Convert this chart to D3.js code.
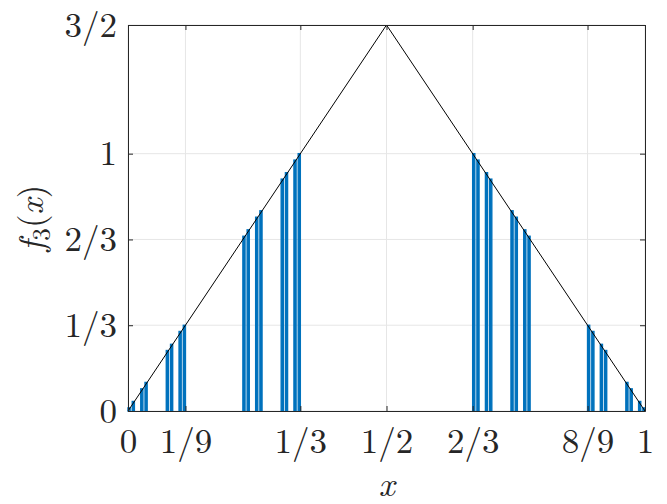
<!DOCTYPE html>
<html>
<head>
<meta charset="utf-8">
<script src="https://cdn.jsdelivr.net/npm/d3@7"></script>
<style>
  body { margin: 0; background: #fff; }
</style>
</head>
<body>
<div id="chart"></div>
<script>
// tick positions and labels
const xTicks = [0, 1/9, 1/3, 1/2, 2/3, 8/9, 1];
const xTickLabels = ["0", "1/9", "1/3", "1/2", "2/3", "8/9", "1"];
const yTicks = [0, 1/3, 2/3, 1, 3/2];
const yTickLabels = ["0", "1/3", "2/3", "1", "3/2"];

// the black tent line
const lineX = [0, 0.5, 1];
const lineY = [0, 1.5, 0];

// bars: left edge of each piece in units of 1/243, and its height
const barUnit = 243;
const barStarts = [0, 2, 6, 8, 18, 20, 24, 26, 54, 56, 60, 62, 72, 74, 78, 80,
                   162, 164, 168, 170, 180, 182, 186, 188, 216, 218, 222, 224, 234, 236, 240, 242];
const barHeights = [0.012, 0.037, 0.086, 0.111, 0.235, 0.259, 0.309, 0.333,
                    0.679, 0.704, 0.753, 0.778, 0.901, 0.926, 0.975, 1.000,
                    1.000, 0.975, 0.926, 0.901, 0.778, 0.753, 0.704, 0.679,
                    0.333, 0.309, 0.259, 0.235, 0.111, 0.086, 0.037, 0.012];

const width = 667, height = 504;
const marginLeft = 128, marginRight = 22, marginTop = 25, marginBottom = 93;
const innerWidth = width - marginLeft - marginRight;
const innerHeight = height - marginTop - marginBottom;

const axisColor = "#262626";
const gridColor = "#e6e6e6";
const barColor = "#0072bd";
const fontSize = 35;
const texFont = "'Latin Modern Roman'";

const svg = d3.select("#chart").append("svg")
    .attr("width", width)
    .attr("height", height);

const g = svg.append("g")
    .attr("transform", "translate(" + marginLeft + "," + marginTop + ")");

const xScale = d3.scaleLinear().domain([0, 1]).range([0, innerWidth]);
const yScale = d3.scaleLinear().domain([0, 1.5]).range([innerHeight, 0]);

// grid
g.append("g").selectAll("line").data(xTicks).join("line")
    .attr("x1", d => xScale(d)).attr("x2", d => xScale(d))
    .attr("y1", 0).attr("y2", innerHeight)
    .attr("stroke", gridColor).attr("stroke-width", 1);
g.append("g").selectAll("line").data(yTicks).join("line")
    .attr("x1", 0).attr("x2", innerWidth)
    .attr("y1", d => yScale(d)).attr("y2", d => yScale(d))
    .attr("stroke", gridColor).attr("stroke-width", 1);

// bars
g.append("g").selectAll("rect").data(barStarts).join("rect")
    .attr("x", d => xScale(d / barUnit))
    .attr("width", d => xScale((d + 1) / barUnit) - xScale(d / barUnit))
    .attr("y", (d, i) => yScale(barHeights[i]))
    .attr("height", (d, i) => innerHeight - yScale(barHeights[i]))
    .attr("fill", barColor)
    .attr("stroke", barColor)
    .attr("stroke-width", 1.4);

// tent line
const line = d3.line().x(d => xScale(d[0])).y(d => yScale(d[1]));
g.append("path")
    .datum(lineX.map((x, i) => [x, lineY[i]]))
    .attr("d", line)
    .attr("fill", "none")
    .attr("stroke", "#000")
    .attr("stroke-width", 1);

// axes (ticks inward, box on)
const tickLen = 5;
g.append("g")
    .attr("transform", "translate(0," + innerHeight + ")")
    .call(d3.axisBottom(xScale).tickValues(xTicks)
        .tickFormat((d, i) => xTickLabels[i])
        .tickSizeInner(-tickLen).tickSizeOuter(0).tickPadding(17));
g.append("g")
    .call(d3.axisLeft(yScale).tickValues(yTicks)
        .tickFormat((d, i) => yTickLabels[i])
        .tickSizeInner(-tickLen).tickSizeOuter(0).tickPadding(11));
g.append("g")
    .call(d3.axisTop(xScale).tickValues(xTicks).tickFormat("")
        .tickSizeInner(-tickLen).tickSizeOuter(0));
g.append("g")
    .attr("transform", "translate(" + innerWidth + ",0)")
    .call(d3.axisRight(yScale).tickValues(yTicks).tickFormat("")
        .tickSizeInner(-tickLen).tickSizeOuter(0));

g.selectAll(".domain").attr("stroke", axisColor).attr("stroke-width", 1);
g.selectAll(".tick line").attr("stroke", axisColor).attr("stroke-width", 1);
g.selectAll(".tick text")
    .attr("fill", axisColor)
    .style("font-family", texFont)
    .style("font-size", fontSize + "px");

// axis labels
svg.append("text")
    .attr("x", marginLeft + innerWidth / 2)
    .attr("y", 496)
    .attr("text-anchor", "middle")
    .attr("fill", axisColor)
    .style("font-family", texFont)
    .style("font-size", fontSize + "px")
    .style("font-style", "italic")
    .text("x");

const yLabel = svg.append("text")
    .attr("transform", "translate(43," + (marginTop + innerHeight / 2) + ") rotate(-90)")
    .attr("text-anchor", "middle")
    .attr("fill", axisColor)
    .style("font-family", texFont)
    .style("font-size", fontSize + "px");
yLabel.append("tspan").style("font-style", "italic").text("f");
yLabel.append("tspan").attr("dy", 7).style("font-size", "25px").text("3");
yLabel.append("tspan").attr("dy", -7).text("(");
yLabel.append("tspan").style("font-style", "italic").text("x");
yLabel.append("tspan").text(")");
</script>
</body>
</html>
